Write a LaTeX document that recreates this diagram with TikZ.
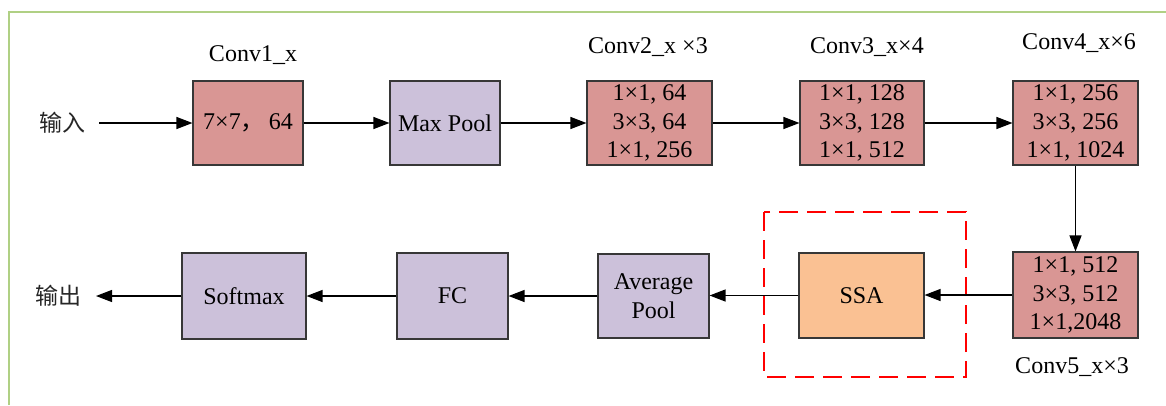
\documentclass[tikz,border=0pt]{standalone}
\usepackage{fontspec}
\setmainfont{Liberation Serif}
\newfontfamily\cjk{Noto Sans CJK SC}
\usetikzlibrary{arrows.meta}
\definecolor{convred}{RGB}{217,150,148}
\definecolor{poolpurple}{RGB}{204,193,218}
\definecolor{ssaorange}{RGB}{250,193,147}
\definecolor{framegreen}{RGB}{176,208,132}
\definecolor{edgegray}{RGB}{55,55,55}
\tikzset{
  blk/.style={draw=edgegray, line width=1.1pt, rectangle, inner sep=0pt,
    align=center, font=\fontsize{24}{28.5}\selectfont},
  convblk/.style={blk, fill=convred},
  poolblk/.style={blk, fill=poolpurple},
  ssablk/.style={blk, fill=ssaorange},
  lbl/.style={inner sep=0pt, font=\fontsize{24}{28}\selectfont},
  cjklbl/.style={inner sep=0pt, font=\fontsize{23}{28}\selectfont\cjk\color{black!85}},
  flow/.style={line width=1.2pt, -{Triangle[length=16pt,width=12pt]}},
}
\begin{document}
\begin{tikzpicture}[x=1pt,y=-1pt]
\useasboundingbox (0,0) rectangle (1166,405);
% outer frame (top and left edges only)
\draw[framegreen, line width=1.6pt] (9,405) -- (9,12) -- (1166,12);

% highlighted attention module
\draw[red, line width=1.8pt, dash pattern=on 19pt off 9pt]
  (764,212) rectangle (966,377);

% upper row
\node[convblk, minimum width=110pt, minimum height=84pt] (c1) at (248,123) {7×7{\cjk ，}\,64};
\node[poolblk, minimum width=110pt, minimum height=84pt] (mp) at (445,123) {Max Pool};
\node[convblk, minimum width=125pt, minimum height=84pt] (c2) at (649.5,123) {1×1, 64\\3×3, 64\\1×1, 256};
\node[convblk, minimum width=124pt, minimum height=84pt] (c3) at (862,123) {1×1, 128\\3×3, 128\\1×1, 512};
\node[convblk, minimum width=125pt, minimum height=84pt] (c4) at (1075.5,123) {1×1, 256\\3×3, 256\\1×1, 1024};

% lower row
\node[convblk, minimum width=125pt, minimum height=86pt] (c5) at (1075.5,295) {1×1, 512\\3×3, 512\\1×1,2048};
\node[ssablk, minimum width=125pt, minimum height=85pt] (ssa) at (861.5,295.5) {SSA};
\node[poolblk, minimum width=111pt, minimum height=84pt] (avg) at (653.5,296) {Average\\Pool};
\node[poolblk, minimum width=111pt, minimum height=86pt] (fc) at (452.5,296) {FC};
\node[poolblk, minimum width=124pt, minimum height=86pt] (sm) at (244,296) {Softmax};

% stage titles
\node[lbl] (t1) at (253,55) {Conv1\_x};
\node[lbl] (t2) at (648,47) {Conv2\_x ×3};
\node[lbl] (t3) at (867,47) {Conv3\_x×4};
\node[lbl] (t4) at (1079,43) {Conv4\_x×6};
\node[lbl] (t5) at (1072,367) {Conv5\_x×3};

% input / output
\node[cjklbl] (in) at (62,123) {输入};
\node[cjklbl] (out) at (58,296) {输出};
\coordinate (inS) at (99,123);
\coordinate (outE) at (96,296);

% connectors
\draw[flow] (inS) -- (c1.west);
\draw[flow] (c1) -- (mp);
\draw[flow] (mp) -- (c2);
\draw[flow] (c2) -- (c3);
\draw[flow] (c3) -- (c4);
\draw[flow] (c4.south) -- (c5.north);
\draw[flow] (c5.west) -- (ssa.east |- c5.west);
\draw[flow] (ssa.west) -- (avg.east |- ssa.west);
\draw[flow] (avg.west) -- (fc.east |- avg.west);
\draw[flow] (fc.west) -- (sm.east |- fc.west);
\draw[flow] (sm.west) -- (outE);
\end{tikzpicture}
\end{document}
